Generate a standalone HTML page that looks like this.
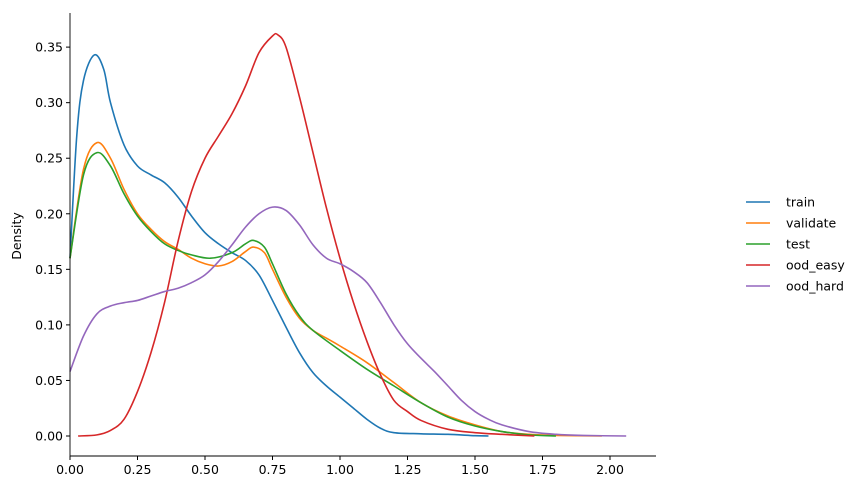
<!DOCTYPE html>
<html><head><meta charset="utf-8"><style>
body{margin:0;background:#fff;font-family:"Liberation Sans","DejaVu Sans",sans-serif}
svg text{font-family:"DejaVu Sans","Liberation Sans",sans-serif;font-size:12.5px;fill:#000}
</style></head><body>
<svg id="chart" width="863" height="490"></svg>
<script>
const seriesNames=["train","validate","test","ood_easy","ood_hard"];
const colors=["#1f77b4","#ff7f0e","#2ca02c","#d62728","#9467bd"];
const trainX=[0,0.025,0.05,0.09,0.125,0.15,0.2,0.25,0.3,0.35,0.4,0.45,0.5,0.55,0.6,0.65,0.7,0.75,0.8,0.85,0.9,0.95,1.0,1.05,1.1,1.15,1.2,1.3,1.4,1.5,1.55];
const trainY=[0.16,0.27,0.32,0.343,0.33,0.30,0.262,0.243,0.235,0.228,0.215,0.198,0.183,0.173,0.165,0.158,0.145,0.122,0.098,0.075,0.057,0.045,0.035,0.025,0.015,0.007,0.003,0.002,0.0015,0.0003,0];
const valX=[0,0.05,0.1,0.15,0.2,0.25,0.3,0.35,0.4,0.45,0.5,0.55,0.6,0.65,0.68,0.72,0.75,0.8,0.85,0.9,0.95,1.0,1.1,1.2,1.3,1.4,1.5,1.6,1.7,1.8,1.97];
const valY=[0.16,0.24,0.264,0.25,0.222,0.2,0.186,0.175,0.168,0.16,0.155,0.153,0.157,0.166,0.17,0.165,0.15,0.125,0.106,0.095,0.088,0.081,0.066,0.048,0.03,0.018,0.01,0.004,0.0015,0.0005,0];
const testX=[0,0.05,0.1,0.15,0.2,0.25,0.3,0.35,0.4,0.45,0.52,0.6,0.65,0.68,0.72,0.75,0.8,0.85,0.9,1.0,1.1,1.2,1.3,1.4,1.5,1.6,1.7,1.8];
const testY=[0.16,0.235,0.255,0.243,0.218,0.198,0.184,0.173,0.167,0.163,0.16,0.165,0.173,0.176,0.17,0.155,0.128,0.108,0.095,0.077,0.06,0.045,0.03,0.017,0.009,0.004,0.001,0];
const easyX=[0.03,0.1,0.15,0.2,0.25,0.3,0.35,0.4,0.45,0.5,0.55,0.6,0.65,0.7,0.75,0.77,0.8,0.85,0.9,0.95,1.0,1.05,1.1,1.15,1.2,1.25,1.3,1.4,1.5,1.6,1.72];
const easyY=[0,0.001,0.005,0.015,0.04,0.075,0.12,0.175,0.22,0.25,0.27,0.29,0.315,0.345,0.36,0.361,0.35,0.305,0.255,0.205,0.16,0.12,0.085,0.055,0.032,0.022,0.014,0.006,0.003,0.0015,0];
const hardX=[0,0.05,0.1,0.15,0.2,0.25,0.3,0.35,0.4,0.45,0.5,0.55,0.6,0.65,0.7,0.75,0.8,0.85,0.9,0.95,1.0,1.05,1.1,1.15,1.2,1.25,1.3,1.35,1.4,1.45,1.5,1.55,1.6,1.7,1.8,1.9,2.06];
const hardY=[0.058,0.09,0.11,0.117,0.12,0.122,0.126,0.13,0.133,0.138,0.145,0.157,0.172,0.188,0.2,0.206,0.203,0.19,0.172,0.16,0.155,0.148,0.138,0.12,0.1,0.083,0.07,0.058,0.045,0.032,0.022,0.015,0.01,0.004,0.0015,0.0005,0];
const xTicks=[0,0.25,0.5,0.75,1.0,1.25,1.5,1.75,2.0];
const xTickLabels=["0.00","0.25","0.50","0.75","1.00","1.25","1.50","1.75","2.00"];
const yTicks=[0,0.05,0.1,0.15,0.2,0.25,0.3,0.35];
const yTickLabels=["0.00","0.05","0.10","0.15","0.20","0.25","0.30","0.35"];

const NS="http://www.w3.org/2000/svg";
const svg=document.getElementById("chart");
const L=70,R=656,T=13,B=456,xMin=0,xMax=2.1704,yMin=-0.018,yMax=0.3807;
const sx=v=>L+(v-xMin)/(xMax-xMin)*(R-L);
const sy=v=>B-(v-yMin)/(yMax-yMin)*(B-T);
function mk(tag,attrs,parent){const e=document.createElementNS(NS,tag);for(const k in attrs)e.setAttribute(k,attrs[k]);(parent||svg).appendChild(e);return e;}
function smooth(xs,ys){const p=xs.map((x,i)=>[sx(x),sy(ys[i])]);let d="M"+p[0][0]+","+p[0][1];
for(let i=0;i<p.length-1;i++){const p0=p[i-1]||p[i],p1=p[i],p2=p[i+1],p3=p[i+2]||p2;
d+=" C"+(p1[0]+(p2[0]-p0[0])/6)+","+(p1[1]+(p2[1]-p0[1])/6)+" "+(p2[0]-(p3[0]-p1[0])/6)+","+(p2[1]-(p3[1]-p1[1])/6)+" "+p2[0]+","+p2[1];}return d;}
const data=[[trainX,trainY],[valX,valY],[testX,testY],[easyX,easyY],[hardX,hardY]];
data.forEach((s,i)=>{const p=mk("path",{d:smooth(s[0],s[1]),fill:"none",stroke:colors[i],"stroke-width":1.6});

});
const ax=mk("g",{});


mk("line",{x1:L,y1:T,x2:L,y2:B,stroke:"#000","stroke-width":0.9},ax);
mk("line",{x1:L,y1:B,x2:R,y2:B,stroke:"#000","stroke-width":0.9},ax);
xTicks.forEach((v,i)=>{const x=sx(v);mk("line",{x1:x,y1:B,x2:x,y2:B+4,stroke:"#000"},ax);
const t=mk("text",{x:x,y:B+18,"text-anchor":"middle"},ax);t.textContent=xTickLabels[i];

});
yTicks.forEach((v,i)=>{const y=sy(v);mk("line",{x1:L-4,y1:y,x2:L,y2:y,stroke:"#000"},ax);
const t=mk("text",{x:L-7,y:y+4.5,"text-anchor":"end"},ax);t.textContent=yTickLabels[i];

});
const yt=mk("text",{x:21,y:236,"text-anchor":"middle",transform:"rotate(-90 21 236)"});yt.textContent="Density";


seriesNames.forEach((n,i)=>{const y=202+i*21;const g=mk("g",{});


mk("line",{x1:746,y1:y,x2:770,y2:y,stroke:colors[i],"stroke-width":1.6},g);
const t=mk("text",{x:786,y:y+4.5},g);t.textContent=n;});
</script>
</body></html>
